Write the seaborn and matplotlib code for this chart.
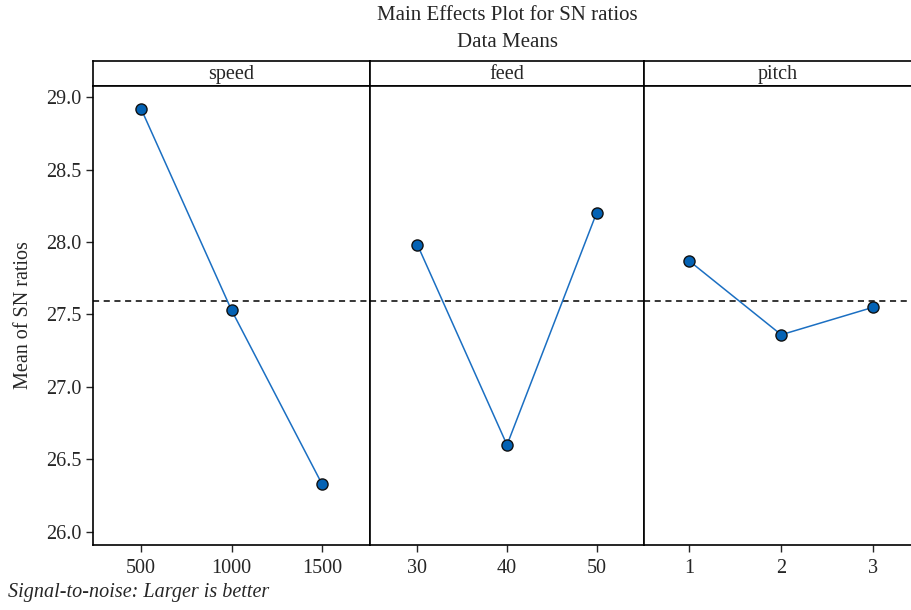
import numpy as np
import pandas as pd
import seaborn as sb
import matplotlib.pyplot as plt

# main effects (SN ratio means)
factors = ["speed", "feed", "pitch"]
speed_levels = ["500", "1000", "1500"]
speed_sn = [28.92, 27.53, 26.33]
feed_levels = ["30", "40", "50"]
feed_sn = [27.98, 26.60, 28.20]
pitch_levels = ["1", "2", "3"]
pitch_sn = [27.87, 27.36, 27.55]
y_ticks = [26.0, 26.5, 27.0, 27.5, 28.0, 28.5, 29.0]

levels = [speed_levels, feed_levels, pitch_levels]
values = [speed_sn, feed_sn, pitch_sn]
grand_mean = np.mean(speed_sn + feed_sn + pitch_sn)

sb.set_style("ticks")
plt.rcParams['font.family'] = ['Liberation Serif', 'DejaVu Serif']

fig = plt.figure(figsize=(9.12, 6.10), dpi=100)
# last panel is cut off at the right edge in the original
gs = fig.add_gridspec(2, 3, height_ratios=[25, 459], width_ratios=[277, 274, 268],
                      hspace=0, wspace=0,
                      left=0.102, right=1.0, bottom=0.1066, top=0.9)
xlims = [(-0.53, 2.53), (-0.53, 2.53), (-0.49, 2.42)]

line_col = "#1b6fc2"
face_col = "#0462b4"
fs = 14.5

axes = []
for i, f in enumerate(factors):
    strip = fig.add_subplot(gs[0, i])
    strip.set_xticks([])
    strip.set_yticks([])
    for s in strip.spines.values():
        s.set_linewidth(1.2)
        s.set_color("black")
    strip.text(0.5, 0.45, f, ha="center", va="center", fontsize=fs, transform=strip.transAxes)

    ax = fig.add_subplot(gs[1, i], sharey=axes[0] if axes else None)
    df = pd.DataFrame({"level": levels[i], "sn": values[i]})
    sb.pointplot(data=df, x="level", y="sn", order=levels[i], ax=ax, color=line_col,
                 markers="o", markersize=8, linewidth=1.1,
                 markerfacecolor=face_col, markeredgecolor="#111111", markeredgewidth=1.0)
    ax.axhline(grand_mean, color="black", ls=(0, (4, 3)), lw=1.1, zorder=0)
    ax.set_xlim(*xlims[i])
    ax.set_ylim(25.91, 29.076)
    ax.set_xlabel("")
    ax.set_ylabel("")
    ax.tick_params(axis="x", labelsize=fs, length=5, width=1, pad=5)
    ax.tick_params(axis="y", labelsize=fs, length=5, width=1)
    for s in ax.spines.values():
        s.set_visible(True)
        s.set_linewidth(1.2)
        s.set_color("black")
    if i == 2:
        ax.spines["right"].set_visible(False)
        strip.spines["right"].set_visible(False)
    if i == 0:
        ax.set_yticks(y_ticks)
        ax.set_yticklabels([f"{t:.1f}" for t in y_ticks])
        ax.set_ylabel("Mean of SN ratios", fontsize=fs, labelpad=9)
    else:
        ax.tick_params(axis="y", left=False, labelleft=False)
    axes.append(ax)

fig.text(0.556, 0.975, "Main Effects Plot for SN ratios", ha="center", va="center", fontsize=15)
fig.text(0.556, 0.931, "Data Means", ha="center", va="center", fontsize=15)
fig.text(0.009, 0.029, "Signal-to-noise: Larger is better", ha="left", va="center",
         fontsize=14.5, style="italic")

plt.savefig("out.png", dpi=100)
